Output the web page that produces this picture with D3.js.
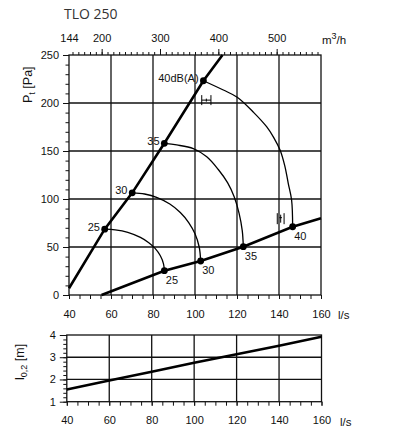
<!DOCTYPE html>
<html><head><meta charset="utf-8">
<script src="https://cdn.jsdelivr.net/npm/d3@7"></script>
<style>
body{margin:0;background:#fff}
svg{display:block}
text{font-family:"Liberation Sans",Arial,sans-serif;fill:#111}
</style></head><body>
<svg id="c" width="397" height="433"></svg>
<script>
// ---- data ----
const flowTicks=[40,60,80,100,120,140,160];
const pressureTicks=[0,50,100,150,200,250];
const m3hTicks=[144,200,300,400,500];
const throwTicks=[1,2,3,4];
const minLine=[[40,7],[57.0,68.6],[70.1,106.4],[85.4,158.0],[104.0,223.2],[113.1,250]];
const maxLine=[[55.5,0],[85.4,25.3],[102.7,35.4],[123.0,50.3],[146.5,71.1],[160,79.9]];
const minDots=[[57.0,68.6],[70.1,106.4],[85.4,158.0],[104.0,223.2]];
const maxDots=[[85.4,25.3],[102.7,35.4],[123.0,50.3],[146.5,71.1]];
const minLabels=["25","30","35","40dB(A)"];
const maxLabels=["25","30","35","40"];
const arc25=[[57.0,68.6],[62,67.9],[68,65.3],[74,60.0],[78,54.5],[81,48.5],[83.5,40.9],[85,32.5],[85.4,25.3]];
const arc30=[[70.1,106.4],[76,105.2],[82,101.5],[88,94.8],[93,86.0],[97,75.5],[100,63.7],[102,50.0],[102.7,35.4]];
const arc35=[[85.4,158.0],[91.3,156.3],[99.2,152.5],[105.6,144],[111,131],[115.5,117],[118.7,102],[121,85],[122.5,67],[123.0,50.3]];
const arc40=[[104.0,223.2],[113.5,213.5],[120.1,206],[128,190],[134.1,175.3],[137.5,164],[140.5,151],[142.7,135],[144.4,116.4],[146,99],[146.5,71.1]];
const symbolH=[105.4,203];
const symbolV=[140.8,79.5];
const throwFlow=[40,60,80,100,120,140,160];
const throwValues=[1.55,1.95,2.35,2.75,3.13,3.52,3.92];

// ---- scales ----
const svg=d3.select("#c");
const x=d3.scaleLinear([40,160],[69,321]);
const y=d3.scaleLinear([0,250],[295,55]);
const xTop=d3.scaleLinear([144,576],[69,321]);
const x2=d3.scaleLinear([40,160],[66.8,321.5]);
const y2=d3.scaleLinear([1,4],[401.7,335]);
const fmt=d3.format("d");

function styleAxis(g,fs){
  g.select(".domain").remove();
  g.selectAll("line").attr("stroke","#111").attr("stroke-width",1);
  g.selectAll("text").attr("font-size",fs).attr("fill","#111").attr("font-family","Liberation Sans, Arial, sans-serif");
}

// title
svg.append("text").attr("x",64).attr("y",19).attr("font-size",14).style("font-family","Open Sans").style("fill","#333").text("TLO 250");

// ---- main chart ----
const main=svg.append("g");
main.append("g").selectAll("line").data(flowTicks.slice(1,-1)).join("line")
  .attr("x1",d=>x(d)).attr("x2",d=>x(d)).attr("y1",y(0)).attr("y2",y(250))
  .attr("stroke","#111").attr("stroke-width",1.3);
main.append("g").selectAll("line").data(pressureTicks.slice(1,-1)).join("line")
  .attr("x1",x(40)).attr("x2",x(160)).attr("y1",d=>y(d)).attr("y2",d=>y(d))
  .attr("stroke","#111").attr("stroke-width",1.3);
main.append("rect").attr("x",x(40)).attr("y",y(250)).attr("width",x(160)-x(40)).attr("height",y(0)-y(250))
  .attr("fill","none").attr("stroke","#111").attr("stroke-width",1.3);

main.append("g").attr("transform",`translate(${x(40)},0)`)
  .call(d3.axisLeft(y).tickValues(d3.range(0,251,10)).tickSize(3.5).tickFormat("")).call(g=>styleAxis(g,11));
main.append("g").attr("transform",`translate(${x(40)},0)`)
  .call(d3.axisLeft(y).tickValues(pressureTicks).tickSize(6).tickPadding(4).tickFormat(fmt)).call(g=>styleAxis(g,11));
main.append("g").attr("transform",`translate(0,${y(0)})`)
  .call(d3.axisBottom(x).tickValues(d3.range(40,161,5)).tickSize(4).tickFormat("")).call(g=>styleAxis(g,11));
main.append("g").attr("transform",`translate(0,${y(0)})`)
  .call(d3.axisBottom(x).tickValues(flowTicks).tickSize(4).tickPadding(11).tickFormat(fmt)).call(g=>styleAxis(g,11));
main.append("g").attr("transform",`translate(0,${y(250)})`)
  .call(d3.axisTop(xTop).tickValues(d3.range(150,576,10)).tickSize(3).tickFormat("")).call(g=>styleAxis(g,11));
main.append("g").attr("transform",`translate(0,${y(250)})`)
  .call(d3.axisTop(xTop).tickValues(m3hTicks.slice(1)).tickSize(6).tickFormat("")).call(g=>styleAxis(g,11));
main.append("g").attr("transform",`translate(0,${y(250)})`)
  .call(d3.axisTop(xTop).tickValues(m3hTicks).tickSize(0).tickPadding(12.7).tickFormat(fmt)).call(g=>styleAxis(g,11));

const mu=svg.append("text").attr("x",322).attr("y",44.3).attr("font-size",11.5);
mu.append("tspan").text("m");
mu.append("tspan").attr("dy",-5).attr("font-size",9).text("3");
mu.append("tspan").attr("dy",5).text("/h");
svg.append("text").attr("x",338).attr("y",319).attr("font-size",11.5).text("l/s");
const yl=svg.append("text").attr("transform","translate(31.7,103) rotate(-90)").attr("font-size",12.5);
yl.append("tspan").text("P");
yl.append("tspan").attr("dy",3).attr("font-size",9).text("t");
yl.append("tspan").attr("dy",-3).text(" [Pa]");

const ln=d3.line().x(d=>x(d[0])).y(d=>y(d[1]));
const lc=d3.line().x(d=>x(d[0])).y(d=>y(d[1])).curve(d3.curveCatmullRom.alpha(0.5));
main.append("path").attr("d",ln(minLine)).attr("fill","none").attr("stroke","#000").attr("stroke-width",2.6);
main.append("path").attr("d",ln(maxLine)).attr("fill","none").attr("stroke","#000").attr("stroke-width",2.6);
[arc25,arc30,arc35,arc40].forEach(a=>{
  main.append("path").attr("d",lc(a)).attr("fill","none").attr("stroke","#000").attr("stroke-width",1.3);
});
main.append("g").selectAll("circle").data(minDots.concat(maxDots)).join("circle")
  .attr("cx",d=>x(d[0])).attr("cy",d=>y(d[1])).attr("r",3.4).attr("fill","#000");
main.append("g").selectAll("text").data(minDots).join("text")
  .attr("x",d=>x(d[0])-4.8).attr("y",d=>y(d[1])+1.5).attr("text-anchor","end").attr("font-size",11)
  .text((d,i)=>minLabels[i]);
main.append("g").selectAll("text").data(maxDots).join("text")
  .attr("x",d=>x(d[0])+1.5).attr("y",d=>y(d[1])+13).attr("font-size",11)
  .text((d,i)=>maxLabels[i]);

const sh=main.append("g").attr("transform",`translate(${x(symbolH[0])},${y(symbolH[1])})`).attr("stroke","#000").attr("stroke-width",1);
sh.append("path").attr("d","M-4.6,-5V5M4.6,-5V5M-4.6,0H4.6M0,-1.5V1.5");
const sv=main.append("g").attr("transform",`translate(${x(symbolV[0])},${y(symbolV[1])})`).attr("stroke","#000").attr("stroke-width",1);
sv.append("path").attr("d","M-3.4,-5.5V5.5M3.4,-5.5V5.5M0,-4V4M-1.3,-1H1.3");

// ---- lower chart ----
const low=svg.append("g");
low.append("g").selectAll("line").data(flowTicks.slice(1,-1)).join("line")
  .attr("x1",d=>x2(d)).attr("x2",d=>x2(d)).attr("y1",y2(1)).attr("y2",y2(4))
  .attr("stroke","#111").attr("stroke-width",1.3);
low.append("g").selectAll("line").data(throwTicks.slice(1,-1)).join("line")
  .attr("x1",x2(40)).attr("x2",x2(160)).attr("y1",d=>y2(d)).attr("y2",d=>y2(d))
  .attr("stroke","#111").attr("stroke-width",1.3);
low.append("rect").attr("x",x2(40)).attr("y",y2(4)).attr("width",x2(160)-x2(40)).attr("height",y2(1)-y2(4))
  .attr("fill","none").attr("stroke","#111").attr("stroke-width",1.3);
low.append("g").attr("transform",`translate(${x2(40)},0)`)
  .call(d3.axisLeft(y2).tickValues(d3.range(1,4.01,0.2)).tickSize(3.5).tickFormat("")).call(g=>styleAxis(g,11));
low.append("g").attr("transform",`translate(${x2(40)},0)`)
  .call(d3.axisLeft(y2).tickValues(throwTicks).tickSize(7).tickPadding(4).tickFormat(fmt)).call(g=>styleAxis(g,11));
low.append("g").attr("transform",`translate(0,${y2(1)})`)
  .call(d3.axisBottom(x2).tickValues(d3.range(40,161,5)).tickSize(4).tickFormat("")).call(g=>styleAxis(g,11));
low.append("g").attr("transform",`translate(0,${y2(1)})`)
  .call(d3.axisBottom(x2).tickValues(flowTicks).tickSize(4).tickPadding(11).tickFormat(fmt)).call(g=>styleAxis(g,11));
low.append("path").attr("d",d3.line().x((d,i)=>x2(throwFlow[i])).y(d=>y2(d))(throwValues))
  .attr("fill","none").attr("stroke","#000").attr("stroke-width",2.6);
svg.append("text").attr("x",340).attr("y",426).attr("font-size",11.5).text("l/s");
const yl2=svg.append("text").attr("transform","translate(24,380) rotate(-90)").attr("font-size",12.5);
yl2.append("tspan").text("l");
yl2.append("tspan").attr("dy",3).attr("font-size",9).text("0,2");
yl2.append("tspan").attr("dy",-3).text(" [m]");
</script>
</body></html>
